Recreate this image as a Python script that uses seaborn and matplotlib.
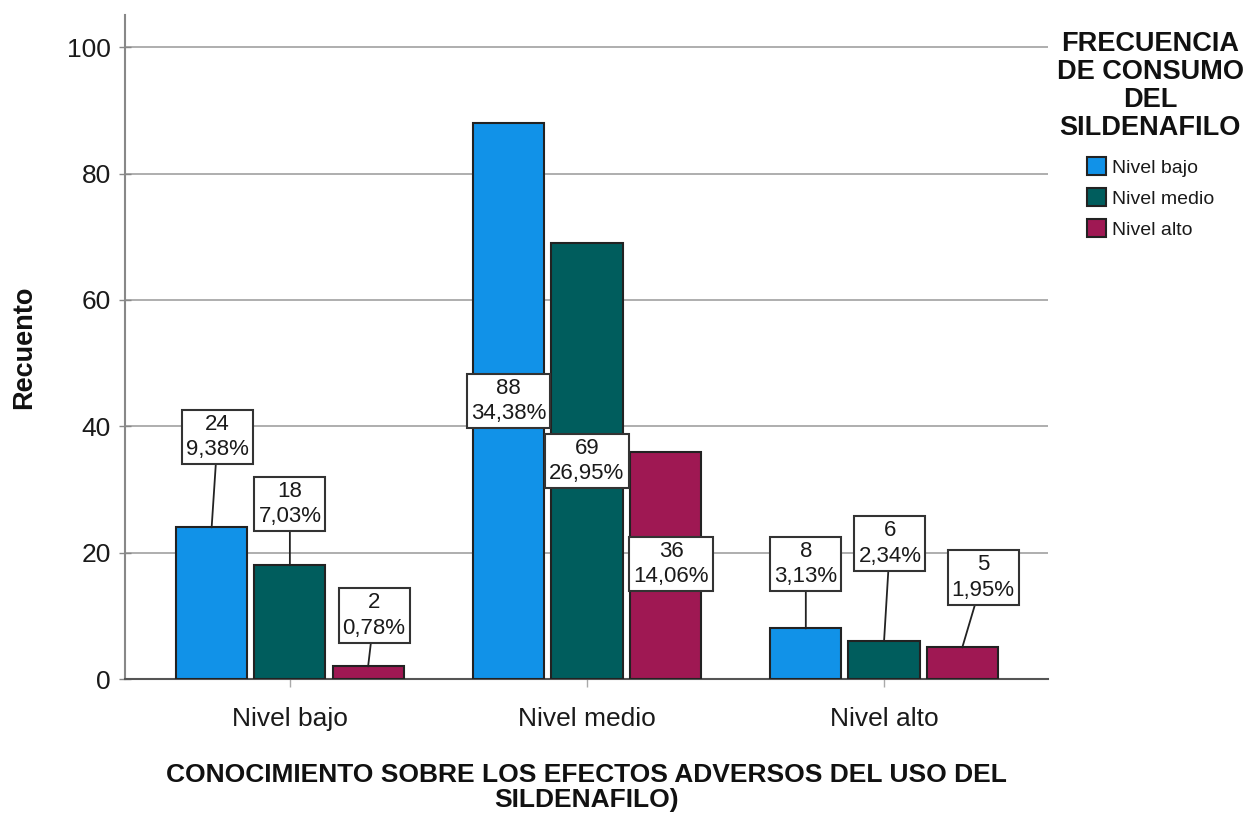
import matplotlib
matplotlib.use("Agg")
from matplotlib import pyplot as plt
import seaborn as sns
import pandas as pd

# data
categories = ["Nivel bajo", "Nivel medio", "Nivel alto"]
levels = ["Nivel bajo", "Nivel medio", "Nivel alto"]
counts_bajo = [24, 18, 2]
counts_medio = [88, 69, 36]
counts_alto = [8, 6, 5]
pct_bajo = ["9,38%", "7,03%", "0,78%"]
pct_medio = ["34,38%", "26,95%", "14,06%"]
pct_alto = ["3,13%", "2,34%", "1,95%"]

# where the value boxes sit (x shift from bar centre, y in data units)
label_dx = [[0.02, 0.0, 0.02], [0.0, 0.0, 0.02], [0.0, 0.02, 0.07]]
label_y = [[38.3, 27.7, 10.0], [44.0, 34.5, 18.2], [18.2, 21.5, 16.1]]

colors = ["#1192e8", "#005d5d", "#9f1853"]

rows = []
for cat, cnts in zip(categories, [counts_bajo, counts_medio, counts_alto]):
    for lev, c in zip(levels, cnts):
        rows.append({"Conocimiento": cat, "Frecuencia": lev, "Recuento": c})
df = pd.DataFrame(rows)

sns.set_style("white")
plt.rcParams['font.family'] = ['Liberation Sans', 'DejaVu Sans']

fig = plt.figure(figsize=(12.45, 8.14), dpi=100)
ax = fig.add_axes([0.1004, 0.1658, 0.7414, 0.8158])

sns.barplot(data=df, x="Conocimiento", y="Recuento", hue="Frecuencia",
            order=categories, hue_order=levels, palette=colors,
            width=0.79, gap=0.09, edgecolor="#222222", linewidth=1.5,
            saturation=1, ax=ax, zorder=3)

ax.set_xlim(-0.555, 2.552)
ax.set_ylim(0, 105.1)
ax.set_yticks([0, 20, 40, 60, 80, 100])
ax.yaxis.grid(True, color="#a8a8a8", linewidth=1.3, zorder=0)
ax.xaxis.grid(False)
ax.set_axisbelow(True)

for s in ["top", "right"]:
    ax.spines[s].set_visible(False)
ax.spines["left"].set_color("#888888")
ax.spines["left"].set_linewidth(1.5)
ax.spines["bottom"].set_color("#555555")
ax.spines["bottom"].set_linewidth(1.5)

ax.tick_params(axis="y", direction="inout", length=8, width=1, color="#888888",
               labelsize=19, labelcolor="#1a1a1a", pad=6, left=True)
ax.tick_params(axis="x", direction="inout", length=12, width=1, color="#aaaaaa",
               labelsize=19, labelcolor="#1a1a1a", pad=14, bottom=True)

ax.set_xlabel("CONOCIMIENTO SOBRE LOS EFECTOS ADVERSOS DEL USO DEL\nSILDENAFILO)",
              fontsize=19, fontweight="bold", labelpad=23, linespacing=1.05,
              color="#111111")
ax.set_ylabel("Recuento", fontsize=19.5, fontweight="bold", labelpad=22,
              color="#111111")

pcts = [pct_bajo, pct_medio, pct_alto]
cnts_all = [counts_bajo, counts_medio, counts_alto]
for h, cont in enumerate(ax.containers):
    for i, bar in enumerate(cont):
        xc = bar.get_x() + bar.get_width() / 2
        top = bar.get_height()
        text = f"{cnts_all[i][h]}\n{pcts[i][h]}"
        ly = label_y[i][h]
        arrow = dict(arrowstyle="-", color="#222222", lw=1.3, shrinkA=0, shrinkB=0) if ly > top else None
        ax.annotate(text, xy=(xc, top), xytext=(xc + label_dx[i][h], ly),
                    ha="center", va="center", fontsize=16, color="#1a1a1a",
                    linespacing=1.3, zorder=5,
                    bbox=dict(boxstyle="square,pad=0.18", facecolor="white",
                              edgecolor="#333333", linewidth=1.5),
                    arrowprops=arrow)

leg = ax.legend(title="FRECUENCIA\nDE CONSUMO\nDEL\nSILDENAFILO", loc="upper center",
                bbox_to_anchor=(0.924, 0.972), bbox_transform=fig.transFigure,
                frameon=False, fontsize=14, title_fontsize=19.5, alignment="center",
                handlelength=1.0, handleheight=1.0, handletextpad=0.3,
                labelspacing=0.6, borderaxespad=0)
leg.get_title().set_fontweight("bold")
leg.get_title().set_multialignment("center")
leg.get_title().set_linespacing(1.1)
leg.get_title().set_color("#111111")
leg._legend_box.sep = 12
for t in leg.get_texts():
    t.set_color("#1a1a1a")

fig.savefig("out.png", dpi=100)
